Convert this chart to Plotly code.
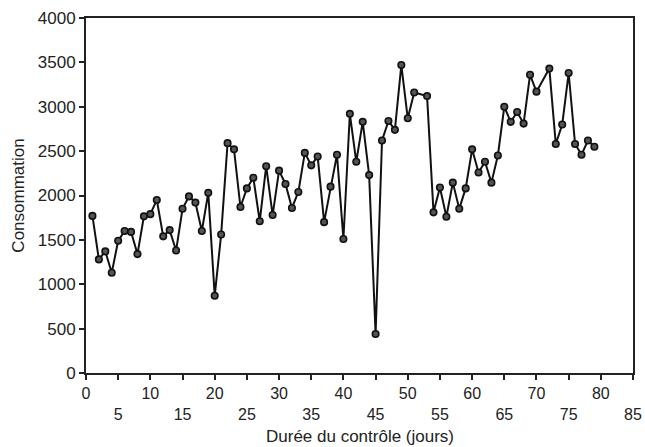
import plotly.graph_objects as go

days = list(range(1, 52)) + list(range(53, 71)) + list(range(72, 80))
consommation = [
    1770, 1280, 1370, 1130, 1490, 1600, 1590, 1340, 1765, 1790,
    1950, 1540, 1610, 1380, 1850, 1990, 1920, 1600, 2030, 870,
    1560, 2590, 2520, 1870, 2080, 2200, 1710, 2330, 1780, 2280,
    2130, 1860, 2040, 2480, 2340, 2440, 1700, 2100, 2460, 1510,
    2920, 2380, 2830, 2230, 440, 2620, 2840, 2740, 3470, 2870,
    3160,
    3120, 1810, 2090, 1760, 2145, 1850, 2080, 2520, 2260, 2380,
    2145, 2450, 3000, 2830, 2940, 2810, 3360, 3170,
    3430, 2580, 2800, 3380, 2580, 2460, 2620, 2550,
]

x_tickvals = list(range(0, 90, 5))
x_ticktext = [str(v) if v % 10 == 0 else "<br>" + str(v) for v in x_tickvals]
y_tickvals = list(range(0, 4500, 500))

font = "Liberation Sans, Arial, sans-serif"

fig = go.Figure()
fig.add_trace(go.Scatter(
    x=days, y=consommation, mode="lines+markers",
    line=dict(color="#111111", width=2),
    marker=dict(symbol="circle", size=6.5, color="#555555",
                line=dict(color="#111111", width=1.6)),
    showlegend=False,
))

fig.update_layout(
    width=645, height=447,
    margin=dict(l=86, r=12, t=18, b=74),
    paper_bgcolor="white", plot_bgcolor="white",
    font=dict(family=font, size=17, color="#222222"),
    xaxis=dict(
        range=[0, 85], tickvals=x_tickvals, ticktext=x_ticktext,
        showgrid=False, zeroline=False, automargin=False,
        showline=True, linecolor="#222222", linewidth=2, mirror=True,
        ticks="outside", ticklen=5, tickwidth=1.5, tickcolor="#222222",
        tickfont=dict(size=16),
    ),
    yaxis=dict(
        range=[0, 4000], tickvals=y_tickvals,
        showgrid=False, zeroline=False, automargin=False,
        showline=True, linecolor="#222222", linewidth=2, mirror=True,
        ticks="outside", ticklen=5, tickwidth=1.5, tickcolor="#222222",
        tickfont=dict(size=17),
        title=dict(text="Consommation", font=dict(size=17), standoff=9),
    ),
    annotations=[dict(
        text="Durée du contrôle (jours)", xref="paper", yref="paper",
        x=0.5, y=-0.178, xanchor="center", yanchor="middle",
        showarrow=False, font=dict(size=17, family=font, color="#222222"),
    )],
)

fig.write_html("out.html")
